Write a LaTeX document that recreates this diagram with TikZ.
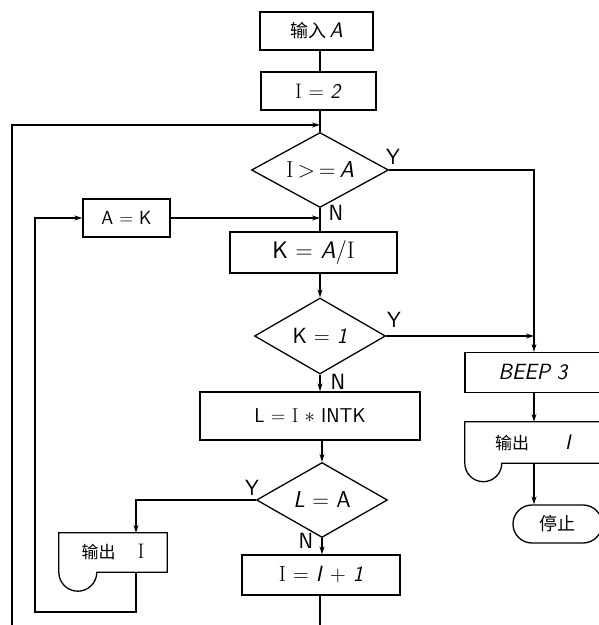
\documentclass[tikz,border=0pt]{standalone}
\usepackage{fontspec}
\newfontfamily\cjk{Noto Sans CJK SC}
\usetikzlibrary{shapes.geometric,arrows.meta}
\newcommand{\fs}[1]{\fontsize{#1}{#1}\selectfont}
\begin{document}
\begin{tikzpicture}[x=1pt,y=1pt,
  every node/.style={font=\sffamily\fs{21}},
  box/.style={draw,rectangle,line width=1.3pt,inner sep=0pt},
  nobox/.style={rectangle,inner sep=0pt},
  dia/.style={draw,diamond,line width=1.3pt,inner sep=0pt},
  lab/.style={font=\sffamily\fs{22},inner sep=0pt},
  ln/.style={line width=1.2pt},
  arr/.style={ln,-{Stealth[length=8pt,width=5pt]}},
]
\useasboundingbox (0,0) rectangle (599,625);
\clip (0,0) rectangle (599,625);

\coordinate (mx) at (320,0);
\coordinate (rx) at (534,0);
\coordinate (j1) at (320,500);
\coordinate (j2) at (320,407);

% main column
\node[box,minimum width=113pt,minimum height=38pt] (in) at (316.5,594)
  {{\cjk\fs{18}输入}\,\textit{A}};
\node[box,minimum width=115pt,minimum height=38pt] (i2) at (318.5,534)
  {\textrm{I} = \textit{2}};
\node[dia,minimum width=137pt,minimum height=75pt,aspect=1.83] (d1) at (320,455)
  {\fs{23}\textrm{I}\,>\,=\,\textit{A}};
\node[box,minimum width=87pt,minimum height=38pt] (ak) at (126.5,407)
  {\fs{19}A = K};
\node[box,minimum width=167pt,minimum height=41pt] (kb) at (313.5,372.5)
  {\fs{24}K = \textit{A}/\textrm{I}};
\node[dia,minimum width=131pt,minimum height=76pt,aspect=1.72] (d2) at (320,289)
  {\fs{22}K = \textit{1}};
\node[box,minimum width=220pt,minimum height=48pt] (lb) at (310,209)
  {\fs{20}L = \textrm{I} $\ast$ INTK};
\node[dia,minimum width=131pt,minimum height=75pt,aspect=1.75] (d3) at (322,125)
  {\fs{23}\textit{L} = A};
\node[box,minimum width=158pt,minimum height=40pt] (ib) at (321,50)
  {\fs{22}\textrm{I} = \textit{I} + \textit{1}};

% left output
\node[nobox,minimum width=108pt,minimum height=39pt] (o1) at (113,72.5)
  {{\cjk\fs{17}输出}\hspace{22pt}\textrm{I}\hspace{19pt}};
\draw[line width=1.3pt] (o1.south east) -- (o1.north east) -- (o1.north west)
  -- (o1.south west) arc[start angle=180,end angle=360,radius=19pt] -- cycle;

% right column
\node[box,minimum width=137pt,minimum height=40pt] (bp) at (533.5,252.5)
  {\fs{22}\textit{BEEP 3}\hspace{24pt}};
\node[nobox,minimum width=137pt,minimum height=41pt] (o2) at (533.5,182.5)
  {{\cjk\fs{17}输出}\hspace{36pt}\textit{I}\hspace{24pt}};
\draw[line width=1.3pt] (o2.south east) -- (o2.north east) -- (o2.north west)
  -- (o2.south west) arc[start angle=180,end angle=360,radius=18.5pt] -- cycle;
\node[box,rounded corners=19pt,minimum width=89pt,minimum height=38pt] (st) at (557.5,101)
  {{\cjk\fs{18}停止}};

% labels
\node[lab] (y1) at (393,468) {Y};
\node[lab] (n1) at (336,412) {N};
\node[lab] (y2) at (394,305) {Y};
\node[lab] (n2) at (338,243) {N};
\node[lab] (y3) at (252,137) {Y};
\node[lab] (n3) at (306,84) {N};

% connectors
\draw[ln] (in.south -| mx) -- (i2.north -| mx);
\draw[ln] (i2.south -| mx) -- (d1.north);
\draw[arr] (ib.south -| mx) -- (320,-6) -- (12,-6) -- (12,500) -- (j1);
\draw[ln] (d1.south) -- (kb.north -| mx);
\draw[arr] (d1.east) -- (d1.east -| rx) -- (bp.north -| rx);
\draw[arr] (ak.east) -- (j2);
\draw[arr] (o1.south -| 136,0) -- (136,13) -- (35,13) -- (35,407) -- (ak.west);
\draw[arr] (kb.south -| mx) -- (d2.north);
\draw[arr] (d2.east) -- (d2.east -| rx);
\draw[arr] (d2.south) -- (lb.north -| mx);
\draw[arr] (lb.south -| d3.north) -- (d3.north);
\draw[arr] (d3.south) -- (ib.north -| d3.south);
\draw[arr] (d3.west) -- (136,125) -- (o1.north -| 136,0);
\draw[arr] (bp.south -| rx) -- (o2.north -| rx);
\draw[arr] (o2.south -| rx) -- (st.north -| rx);
\end{tikzpicture}
\end{document}
